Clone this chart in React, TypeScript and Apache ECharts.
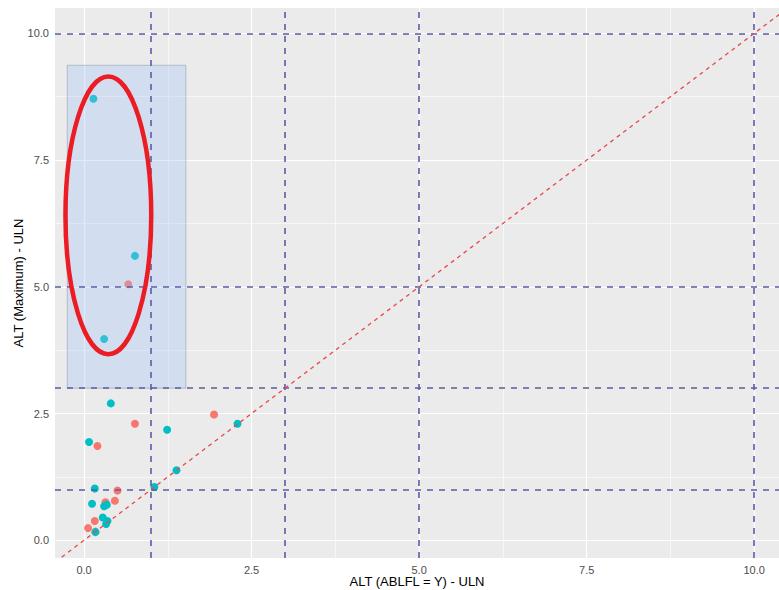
import React, { useEffect, useRef } from "react";
import * as echarts from "echarts";

const tealPoints: number[][] = [
  [0.14, 8.71], [0.76, 5.61], [0.30, 3.97], [0.40, 2.70], [2.29, 2.30], [1.24, 2.18],
  [0.075, 1.94], [1.38, 1.38], [1.05, 1.05], [0.16, 1.02], [0.12, 0.72], [0.30, 0.67],
  [0.34, 0.70], [0.28, 0.45], [0.35, 0.38], [0.33, 0.32], [0.17, 0.16],
];
const salmonPoints: number[][] = [
  [0.66, 5.05], [0.76, 2.30], [1.94, 2.48], [0.20, 1.86], [0.50, 0.98], [0.32, 0.75],
  [0.46, 0.78], [0.16, 0.38], [0.06, 0.24], [0.17, 0.17],
];
const majorTicks = [0, 2.5, 5, 7.5, 10];
const minorTicks = [1.25, 3.75, 6.25, 8.75];
const refX = [1, 3, 5, 10];
const refY = [1, 3, 5, 10];
const diagonal = [[-1, -1], [11, 11]];
const highlightBox = [[-0.25, 3.0, 1.52, 9.37]];
const ellipse = [[0.363, 6.41, 0.64, 2.74]];

const X_MIN = -0.433, X_MAX = 10.37, Y_MIN = -0.35, Y_MAX = 10.5;

export default function App() {
  const ref = useRef<HTMLDivElement>(null);
  useEffect(() => {
    if (!ref.current) return;
    const chart = echarts.init(ref.current, null, { renderer: "svg" });
    const font = "Liberation Sans";
    const gridLines = [
      ...majorTicks.map((v) => ({ xAxis: v, lineStyle: { color: "#ffffff", width: 1.2, type: "solid" } })),
      ...minorTicks.map((v) => ({ xAxis: v, lineStyle: { color: "#ffffff", width: 0.6, type: "solid" } })),
      ...majorTicks.map((v) => ({ yAxis: v, lineStyle: { color: "#ffffff", width: 1.2, type: "solid" } })),
      ...minorTicks.map((v) => ({ yAxis: v, lineStyle: { color: "#ffffff", width: 0.6, type: "solid" } })),
    ];
    const refLines = [
      ...refX.map((v) => ({ xAxis: v })),
      ...refY.map((v) => ({ yAxis: v })),
    ];
    const axisCommon = {
      axisLine: { show: false },
      axisTick: { show: true, length: 4, lineStyle: { color: "#333333", width: 1 }, customValues: majorTicks },
      splitLine: { show: false },
      nameMoveOverlap: false,
      nameTextStyle: { color: "#000000", fontSize: 13, fontFamily: font },
    };
    chart.setOption({
      animation: false,
      grid: {
        left: 55, top: 8, right: 0, bottom: 32, show: true, backgroundColor: "#EBEBEB", borderWidth: 0,
        containLabel: false, outerBoundsMode: "none",
      },
      xAxis: {
        type: "value",
        min: X_MIN,
        max: X_MAX,
        name: "ALT (ABLFL = Y) - ULN",
        nameLocation: "middle",
        nameGap: 17,
        ...axisCommon,
        axisLabel: {
          customValues: majorTicks,
          formatter: (v: number) => v.toFixed(1),
          color: "#4D4D4D",
          fontSize: 11,
          fontFamily: font,
          margin: 6,
        },
      },
      yAxis: {
        type: "value",
        min: Y_MIN,
        max: Y_MAX,
        name: "ALT (Maximum) - ULN",
        nameLocation: "middle",
        nameGap: 30,
        ...axisCommon,
        axisLabel: {
          customValues: majorTicks,
          formatter: (v: number) => v.toFixed(1),
          color: "#4D4D4D",
          fontSize: 11,
          fontFamily: font,
          margin: 6,
        },
      },
      series: [
        {
          type: "line",
          data: [],
          silent: true,
          z: 1,
          markLine: { silent: true, symbol: "none", z: 1, label: { show: false }, data: gridLines },
        },
        {
          type: "scatter",
          name: "salmon",
          data: salmonPoints,
          symbolSize: 8,
          itemStyle: { color: "#F8766D", opacity: 1 },
          z: 3,
        },
        {
          type: "scatter",
          name: "teal",
          data: tealPoints,
          symbolSize: 8,
          itemStyle: { color: "#00BFC4", opacity: 1 },
          z: 3,
        },
        {
          type: "custom",
          data: highlightBox,
          z: 4,
          silent: true,
          renderItem: (params: any, api: any) => {
            const p0 = api.coord([api.value(0), api.value(3)]);
            const p1 = api.coord([api.value(2), api.value(1)]);
            return {
              type: "rect",
              shape: { x: p0[0], y: p0[1], width: p1[0] - p0[0], height: p1[1] - p0[1] },
              style: { fill: "rgba(160,195,250,0.32)", stroke: "rgba(150,160,175,0.6)", lineWidth: 1 },
            };
          },
        },
        {
          type: "line",
          data: [],
          silent: true,
          z: 5,
          markLine: {
            silent: true,
            symbol: "none",
            z: 5,
            label: { show: false },
            lineStyle: { color: "#5B5CA6", width: 1.6, type: [6, 6] },
            data: refLines,
          },
        },
        {
          type: "line",
          data: diagonal,
          showSymbol: false,
          silent: true,
          z: 5,
          clip: true,
          lineStyle: { color: "#E8474A", width: 1.3, type: [4, 4] },
        },
        {
          type: "custom",
          data: ellipse,
          z: 6,
          silent: true,
          clip: false,
          renderItem: (params: any, api: any) => {
            const c = api.coord([api.value(0), api.value(1)]);
            const s = api.size([api.value(2), api.value(3)]);
            return {
              type: "ellipse",
              shape: { cx: c[0], cy: c[1], rx: s[0], ry: s[1] },
              style: { fill: "none", stroke: "#EC1C24", lineWidth: 4.5 },
            };
          },
        },
      ],
    });
    return () => chart.dispose();
  }, []);
  return <div ref={ref} style={{ width: 779, height: 590, position: "absolute", left: 0, top: 0 }} />;
}
